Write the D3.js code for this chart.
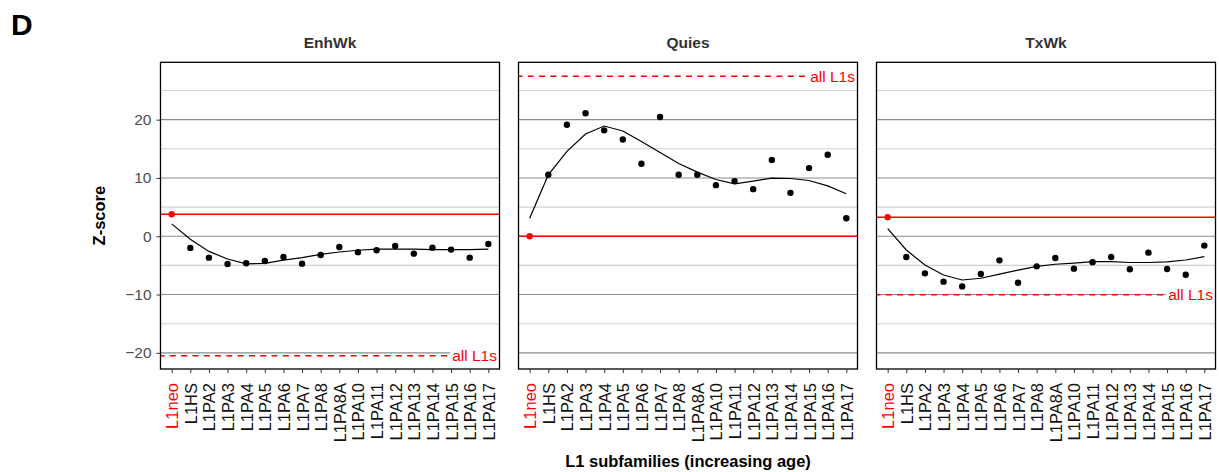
<!DOCTYPE html>
<html>
<head>
<meta charset="utf-8">
<script src="https://cdn.jsdelivr.net/npm/d3@7"></script>
<style>
  html, body { margin: 0; padding: 0; background: #fff; }
  svg { display: block; font-family: "Liberation Sans", Arial, Helvetica, sans-serif; }
</style>
</head>
<body>
<svg id="chart" width="1219" height="472"></svg>
<script>
// L1 subfamilies, ordered by increasing age
const categories = ["L1neo", "L1HS", "L1PA2", "L1PA3", "L1PA4", "L1PA5", "L1PA6", "L1PA7",
  "L1PA8", "L1PA8A", "L1PA10", "L1PA11", "L1PA12", "L1PA13", "L1PA14", "L1PA15", "L1PA16", "L1PA17"];

// Chromatin states shown as facets
const states = ["EnhWk", "Quies", "TxWk"];

// Z-scores per subfamily
const enhwkZ = [3.78, -2.0, -3.67, -4.76, -4.64, -4.24, -3.55, -4.70, -3.21, -1.83, -2.75, -2.41, -1.66, -2.98, -1.95, -2.29, -3.67, -1.32];
const quiesZ = [0.0, 10.54, 19.14, 21.09, 18.17, 16.6, 12.43, 20.46, 10.54, 10.54, 8.77, 9.46, 8.08, 13.07, 7.45, 11.69, 13.98, 3.09];
const txwkZ  = [3.27, -3.55, -6.36, -7.79, -8.6, -6.48, -4.13, -7.97, -5.16, -3.72, -5.56, -4.47, -3.55, -5.67, -2.81, -5.62, -6.59, -1.6];

// Smoothed trend per subfamily
const enhwkFit = [2.12, -0.5, -2.6, -3.9, -4.75, -4.64, -4.1, -3.67, -3.1, -2.7, -2.4, -2.2, -2.2, -2.2, -2.3, -2.3, -2.3, -2.2];
const quiesFit = [3.09, 10.54, 14.56, 17.54, 18.91, 18.05, 16.27, 14.38, 12.49, 11.0, 9.74, 9.0, 9.46, 9.97, 9.91, 9.57, 8.65, 7.28];
const txwkFit  = [1.32, -2.35, -4.93, -6.65, -7.5, -7.2, -6.5, -5.8, -5.16, -4.8, -4.6, -4.36, -4.36, -4.5, -4.5, -4.4, -4.07, -3.5];

// Z-score of all L1 elements together
const allL1s = [-20.5, 27.45, -10.03];

// Axis ticks
const majorTicks = [-20, -10, 0, 10, 20];
const minorTicks = [-15, -5, 5, 15, 25];

const zValues = [enhwkZ, quiesZ, txwkZ];
const fitValues = [enhwkFit, quiesFit, txwkFit];

const svg = d3.select("#chart");
const plotTop = 62.3, plotBottom = 369;
const panelLefts = [160.5, 518.5, 876.5];
const panelW = 339;
const RED = "#ff0000";

const y = d3.scaleLinear().domain([-22.77, 29.84]).range([plotBottom, plotTop]);

// Panel label
svg.append("text").attr("x", 11).attr("y", 35)
  .attr("font-size", 30).attr("font-weight", "bold").attr("fill", "#000").text("D");

// Y-axis title
svg.append("text")
  .attr("transform", `translate(${105},${(plotTop + plotBottom) / 2}) rotate(-90)`)
  .attr("text-anchor", "middle").attr("font-size", 16.5).attr("font-weight", "bold")
  .attr("fill", "#000").text("Z-score");

// X-axis title
svg.append("text")
  .attr("x", (panelLefts[0] + panelLefts[2] + panelW) / 2).attr("y", 466.5)
  .attr("text-anchor", "middle").attr("font-size", 16.5).attr("font-weight", "bold")
  .attr("fill", "#000").text("L1 subfamilies (increasing age)");

// Y axis on the first panel
const yAxis = d3.axisLeft(y).tickValues(majorTicks).tickSize(4).tickPadding(5)
  .tickFormat(d => d < 0 ? "\u2212" + Math.abs(d) : d);
const ya = svg.append("g").attr("transform", `translate(${panelLefts[0]},0)`).call(yAxis);
ya.select(".domain").remove();
ya.selectAll(".tick line").attr("stroke", "#333");
ya.selectAll(".tick text").attr("font-size", 15.5).attr("fill", "#4d4d4d")
  .attr("font-family", "Liberation Sans, Arial, sans-serif");

states.forEach((state, i) => {
  const x0 = panelLefts[i];
  const x = d3.scalePoint().domain(categories).range([x0, x0 + panelW]).padding(0.6);
  const g = svg.append("g");
  const zs = zValues[i];
  const fits = fitValues[i];

  // Facet title
  g.append("text").attr("x", x0 + panelW / 2).attr("y", 48.3)
    .attr("text-anchor", "middle").attr("font-size", 15.5).attr("font-weight", "bold")
    .attr("fill", "#333").text(state);

  // Grid
  g.selectAll(".minor").data(minorTicks).join("line")
    .attr("x1", x0).attr("x2", x0 + panelW)
    .attr("y1", d => y(d)).attr("y2", d => y(d))
    .attr("stroke", "#d0d0d0").attr("stroke-width", 1.1);
  g.selectAll(".major").data(majorTicks).join("line")
    .attr("x1", x0).attr("x2", x0 + panelW)
    .attr("y1", d => y(d)).attr("y2", d => y(d))
    .attr("stroke", "#8c8c8c").attr("stroke-width", 1.1);

  // Reference line at the L1neo value
  g.append("line").attr("x1", x0).attr("x2", x0 + panelW)
    .attr("y1", y(zs[0])).attr("y2", y(zs[0]))
    .attr("stroke", RED).attr("stroke-width", 1.5);

  // All-L1 reference, dashed, with its label
  g.append("line").attr("x1", x0).attr("x2", x0 + panelW)
    .attr("y1", y(allL1s[i])).attr("y2", y(allL1s[i]))
    .attr("stroke", RED).attr("stroke-width", 1.5).attr("stroke-dasharray", "6,5.3")
    .attr("stroke-dashoffset", 2);
  const lblG = g.append("g");
  const lblRect = lblG.append("rect").attr("fill", "#fff");
  const lbl = lblG.append("text").attr("x", x0 + panelW - 2.5).attr("y", y(allL1s[i]))
    .attr("dy", "0.36em").attr("text-anchor", "end").attr("font-size", 15.5)
    .attr("fill", RED).text("all L1s");
  const bb = lbl.node().getBBox();
  lblRect.attr("x", bb.x - 2).attr("y", bb.y).attr("width", x0 + panelW - bb.x + 2).attr("height", bb.height);

  // Smoothed trend
  g.append("path")
    .datum(fits)
    .attr("fill", "none").attr("stroke", "#000").attr("stroke-width", 1.2)
    .attr("d", d3.line().x((d, j) => x(categories[j])).y(d => y(d)));

  // Points
  g.selectAll(".pt").data(zs).join("circle")
    .attr("cx", (d, j) => x(categories[j])).attr("cy", d => y(d)).attr("r", 3.2)
    .attr("fill", (d, j) => j === 0 ? RED : "#000");

  // Panel border
  g.append("rect").attr("x", x0).attr("y", plotTop).attr("width", panelW).attr("height", plotBottom - plotTop)
    .attr("fill", "none").attr("stroke", "#000").attr("stroke-width", 1.3);

  // X axis
  const xAxis = d3.axisBottom(x).tickSize(4).tickPadding(0);
  const xa = g.append("g").attr("transform", `translate(0,${plotBottom})`).call(xAxis);
  xa.select(".domain").remove();
  xa.selectAll(".tick line").attr("stroke", "#333");
  xa.selectAll(".tick text")
    .attr("font-size", 16.5).attr("font-family", "Liberation Sans, Arial, sans-serif")
    .attr("fill", d => d === "L1neo" ? RED : "#111")
    .attr("text-anchor", "end")
    .attr("transform", "translate(0,14) rotate(-90)")
    .attr("x", 0).attr("y", 0).attr("dy", "0.36em");
});
</script>
</body>
</html>
